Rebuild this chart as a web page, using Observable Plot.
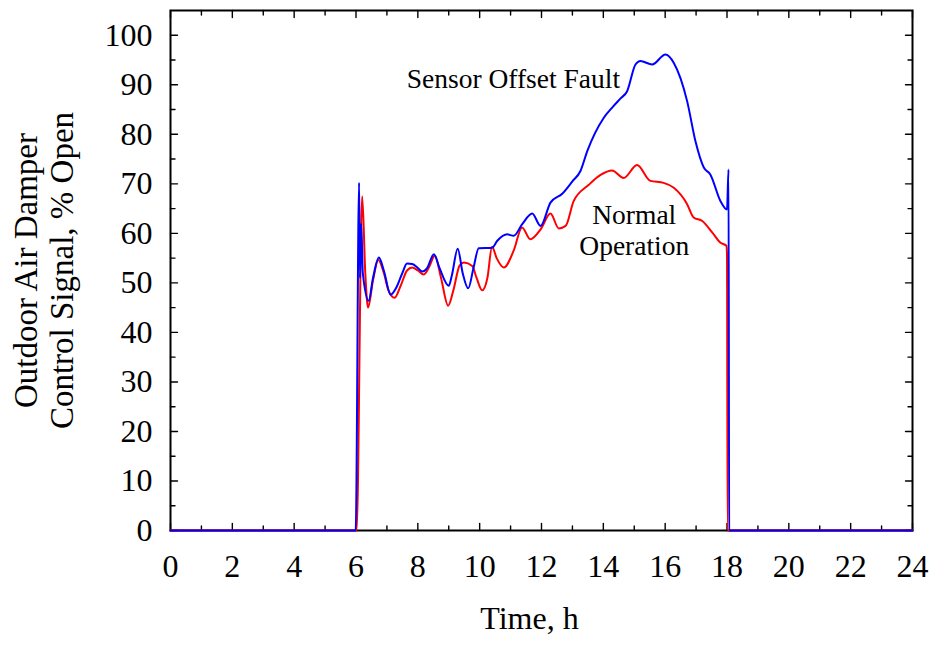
<!DOCTYPE html>
<html>
<head>
<meta charset="utf-8">
<script src="https://cdn.jsdelivr.net/npm/d3@7"></script>
<script src="https://cdn.jsdelivr.net/npm/@observablehq/plot@0.6"></script>
<style>
  html, body { margin: 0; padding: 0; background: #fff; }
</style>
</head>
<body>
<div id="chart"></div>
<script>
// Time (h) and damper signal (% open) for each series
const faultHours = [0, 5.99, 6.1, 6.13, 6.17, 6.22, 6.41, 6.55, 6.74, 6.9, 7.12, 7.3, 7.5, 7.65, 7.82, 8.0, 8.14, 8.3, 8.52, 8.7, 9.0, 9.1, 9.29, 9.45, 9.63, 9.8, 9.97, 10.4, 10.57, 10.89, 11.1, 11.37, 11.7, 11.97, 12.29, 12.67, 13.0, 13.26, 13.48, 14.01, 14.3, 14.55, 14.77, 15.04, 15.2, 15.58, 16.01, 16.28, 16.71, 16.98, 17.25, 17.46, 17.79, 18.0, 18.05, 18.07, 24];
const faultValues = [0, 0, 70.2, 51, 62, 52, 46.4, 51, 55.1, 52.5, 47.6, 49, 52, 53.9, 53.8, 53, 52.3, 53, 55.8, 53, 49.4, 51.5, 56.9, 52, 48.9, 53, 57.0, 57.1, 58.5, 59.8, 59.5, 61.8, 64.0, 61.5, 66.2, 68.0, 70.5, 72.6, 76.6, 83.3, 85.5, 87.2, 88.7, 94.1, 94.8, 94.1, 96.1, 94.4, 86.7, 78.6, 73.3, 71.9, 66.5, 64.8, 72.9, 0, 0];

const normalHours = [0, 6.02, 6.2, 6.3, 6.39, 6.55, 6.72, 6.9, 7.05, 7.25, 7.45, 7.65, 7.82, 8.0, 8.19, 8.35, 8.55, 8.75, 8.98, 9.15, 9.35, 9.49, 9.76, 9.9, 10.08, 10.25, 10.4, 10.55, 10.78, 11.1, 11.37, 11.64, 11.97, 12.29, 12.56, 12.78, 13.04, 13.53, 13.91, 14.28, 14.66, 15.09, 15.52, 15.95, 16.28, 16.71, 16.92, 17.2, 17.52, 17.79, 17.98, 18.0, 18.02, 24];
const normalValues = [0, 0, 67.5, 52, 45, 50.5, 54.6, 52, 48.5, 47.0, 49.5, 52.5, 53.1, 52.5, 51.7, 53, 55.5, 51, 45.4, 48.5, 53.5, 54.1, 53.4, 51, 48.5, 51, 57.3, 55, 53.1, 56.5, 61.2, 58.8, 60.8, 64.0, 61.0, 61.5, 66.5, 69.8, 71.8, 72.7, 71.2, 73.8, 70.6, 70.2, 69.2, 65.9, 63.2, 62.5, 60.2, 58.1, 57.5, 55.8, 0, 0];

const xMajorTicks = [0, 2, 4, 6, 8, 10, 12, 14, 16, 18, 20, 22, 24];
const xMinorTicks = [1, 3, 5, 7, 9, 11, 13, 15, 17, 19, 21, 23];
const yMajorTicks = [0, 10, 20, 30, 40, 50, 60, 70, 80, 90, 100];
const yMinorTicks = [5, 15, 25, 35, 45, 55, 65, 75, 85, 95];

const annotations = [
  {x: 11.09, y: 91.1, text: "Sensor Offset Fault"},
  {x: 15.0, y: 63.6, text: "Normal"},
  {x: 15.0, y: 57.4, text: "Operation"}
];

const normal = normalHours.map((h, i) => ({h, v: normalValues[i]}));
const fault = faultHours.map((h, i) => ({h, v: faultValues[i]}));

const font = "Liberation Serif, Times New Roman, serif";

// a plain tick segment drawn from the anchor point
const tickShape = {draw(context, l) { context.moveTo(0, 0); context.lineTo(0, -l); }};
const tickStyle = {anchor: "start", shape: tickShape, stroke: "#000", strokeWidth: 1.4};

const chart = Plot.plot({
  width: 935,
  height: 647,
  marginLeft: 170,
  marginRight: 23,
  marginTop: 10,
  marginBottom: 117,
  style: {fontFamily: font, background: "#fff", color: "#000"},
  x: {domain: [0, 24]},
  y: {domain: [0, 105]},
  marks: [
    Plot.frame({stroke: "#000", strokeWidth: 2}),
    // inward ticks on all four sides
    Plot.vector(xMajorTicks, {x: d => d, frameAnchor: "bottom", rotate: 0, length: 7, ...tickStyle}),
    Plot.vector(xMinorTicks, {x: d => d, frameAnchor: "bottom", rotate: 0, length: 4.5, ...tickStyle}),
    Plot.vector(xMajorTicks, {x: d => d, frameAnchor: "top", rotate: 180, length: 7, ...tickStyle}),
    Plot.vector(xMinorTicks, {x: d => d, frameAnchor: "top", rotate: 180, length: 4.5, ...tickStyle}),
    Plot.vector(yMajorTicks, {y: d => d, frameAnchor: "left", rotate: 90, length: 7, ...tickStyle}),
    Plot.vector(yMinorTicks, {y: d => d, frameAnchor: "left", rotate: 90, length: 4.5, ...tickStyle}),
    Plot.vector(yMajorTicks, {y: d => d, frameAnchor: "right", rotate: -90, length: 7, ...tickStyle}),
    Plot.vector(yMinorTicks, {y: d => d, frameAnchor: "right", rotate: -90, length: 4.5, ...tickStyle}),
    // tick labels
    Plot.axisX({anchor: "bottom", ticks: xMajorTicks, tickSize: 0, tickPadding: 24, fontSize: 32, label: null}),
    Plot.axisY({anchor: "left", ticks: yMajorTicks, tickSize: 0, tickPadding: 18, fontSize: 32, label: null}),
    // data
    Plot.line(normal, {x: "h", y: "v", stroke: "#ff0000", strokeWidth: 2, curve: "monotone-x"}),
    Plot.line(fault, {x: "h", y: "v", stroke: "#0000ff", strokeWidth: 2, curve: "monotone-x"}),
    // annotations
    Plot.text(annotations, {x: "x", y: "y", text: "text", fontSize: 27.5, fill: "#000"}),
    // axis titles
    Plot.text(["Time, h"], {frameAnchor: "bottom", dx: -12, dy: 98, fontSize: 32, fill: "#000"}),
    Plot.text(["Outdoor Air Damper\nControl Signal, % Open"], {frameAnchor: "left", dx: -127.3, rotate: -90, textAnchor: "middle", lineAnchor: "middle", fontSize: 33, lineHeight: 1.106, fill: "#000"})
  ]
});
document.getElementById("chart").appendChild(chart);
</script>
</body>
</html>
